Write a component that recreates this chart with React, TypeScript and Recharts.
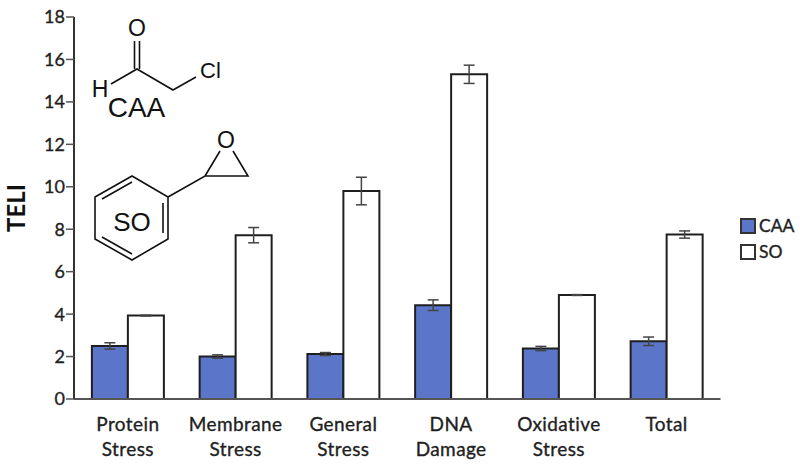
import React from "react";
import { BarChart, Bar, XAxis, YAxis, ErrorBar, Legend } from "recharts";

const categories = ["Protein Stress", "Membrane Stress", "General Stress", "DNA Damage", "Oxidative Stress", "Total"];
const caaValues = [2.5, 2.0, 2.12, 4.42, 2.38, 2.72];
const soValues = [3.93, 7.72, 9.8, 15.3, 4.9, 7.75];
const caaErrors = [0.15, 0.08, 0.07, 0.25, 0.1, 0.2];
const soErrors = [0.02, 0.36, 0.65, 0.43, 0.02, 0.17];
const yTicks = [0, 2, 4, 6, 8, 10, 12, 14, 16, 18];

const data = categories.map((name, i) => ({
  name,
  CAA: caaValues[i],
  SO: soValues[i],
  caaErr: caaErrors[i],
  soErr: soErrors[i],
}));

const FONT = "Lato, 'Open Sans', sans-serif";
const INK = "#1f1f1f";

const CategoryTick = ({ x, y, payload }: any) => {
  const lines = String(payload.value).split(" ");
  return (
    <text x={x} y={y} textAnchor="middle" fontFamily={FONT} fontSize={19} letterSpacing={0.4} fill={INK} stroke={INK} strokeWidth={0.35}>
      {lines.map((l: string, i: number) => (
        <tspan key={i} x={x} dy={i === 0 ? 0 : 25.5}>{l}</tspan>
      ))}
    </text>
  );
};

const LegendBox = () => (
  <div style={{ fontFamily: FONT, fontSize: 17.5, color: INK, lineHeight: "26px", WebkitTextStroke: "0.35px #1f1f1f" }}>
    {[["CAA", "#5b76c9"], ["SO", "#ffffff"]].map(([label, fill]) => (
      <div key={label} style={{ display: "flex", alignItems: "center", height: 26 }}>
        <span style={{ width: 12, height: 12, background: fill, border: "2px solid #333", marginRight: 3, display: "inline-block" }} />
        {label}
      </div>
    ))}
  </div>
);

const Structures = () => (
  <svg width={800} height={467} style={{ position: "absolute", left: 0, top: 0, pointerEvents: "none" }}>
    <g stroke="#111" strokeWidth={1.6} fill="none">
      <path d="M134.5 41V69M139.5 41V69" />
      <path d="M111 84L137 69L173 90L196 77" />
      <path d="M95 197L132 176L168 197V239L132 260L95 239Z" />
      <path d="M102 199L132 182M163 203V233M102 237L132 254" />
      <path d="M168 197L205 176H248L233 151M205 176L220 151" />
    </g>
    <g fontFamily="'Liberation Sans', Arial, sans-serif" fill="#111" textAnchor="middle">
      <text x={137} y={35.5} fontSize={23}>O</text>
      <text x={100} y={97} fontSize={23}>H</text>
      <text x={210.5} y={78} fontSize={22}>Cl</text>
      <text x={136.5} y={117} fontSize={28}>CAA</text>
      <text x={132} y={230.5} fontSize={26}>SO</text>
      <text x={226} y={147.5} fontSize={23}>O</text>
    </g>
  </svg>
);

export default function App() {
  return (
    <div style={{ position: "absolute", left: 0, top: 0, width: 800, height: 467, background: "#fff" }}>
      <BarChart
        width={800}
        height={467}
        data={data}
        margin={{ top: 17, right: 19.5, bottom: 0, left: 0 }}
        barCategoryGap="16.6%"
        barGap={0}
      >
        <XAxis
          dataKey="name"
          interval={0}
          tick={<CategoryTick />}
          tickLine={false}
          height={68}
          axisLine={{ stroke: "#555", strokeWidth: 2 }}
          tickMargin={25.5}
        />
        <YAxis
          width={74}
          domain={[0, 18]}
          ticks={yTicks}
          interval={0}
          tick={{ fontFamily: FONT, fontSize: 18, fill: INK, stroke: INK, strokeWidth: 0.35 }}
          tickLine={{ stroke: "#555", strokeWidth: 1.5 }}
          tickSize={8}
          tickMargin={1}
          axisLine={{ stroke: "#333", strokeWidth: 2 }}
          label={{
            value: "TELI",
            angle: -90,
            position: "center",
            dx: -21,
            dy: 0,
            fontFamily: FONT,
            fontSize: 24,
            fontWeight: 700,
            fill: "#111",
          }}
        />
        <Legend
          layout="vertical"
          align="right"
          verticalAlign="top"
          content={<LegendBox />}
          wrapperStyle={{ left: 740, top: 213, width: 60 }}
        />
        <Bar dataKey="CAA" fill="#5b76c9" stroke="#1f1f1f" strokeWidth={2} isAnimationActive={false}>
          <ErrorBar dataKey="caaErr" width={5.5} stroke="#444" strokeWidth={1.5} isAnimationActive={false} />
        </Bar>
        <Bar dataKey="SO" fill="#ffffff" stroke="#1f1f1f" strokeWidth={2} isAnimationActive={false}>
          <ErrorBar dataKey="soErr" width={5.5} stroke="#444" strokeWidth={1.5} isAnimationActive={false} />
        </Bar>
      </BarChart>
      <Structures />
    </div>
  );
}
